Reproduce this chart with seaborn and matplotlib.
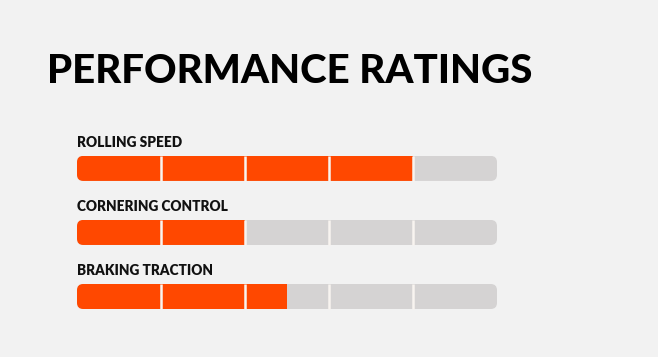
import matplotlib.pyplot as plt
from matplotlib.patches import FancyBboxPatch
import seaborn as sns

categories = ["ROLLING SPEED", "CORNERING CONTROL", "BRAKING TRACTION"]
ratings = [4, 2, 2.5]
max_rating = 5
title = "PERFORMANCE RATINGS"

bg = "#f2f2f2"
orange = "#ff4800"
track = "#d5d3d3"

sns.set_theme(style="white")
plt.rcParams['font.family'] = ['Lato', 'DejaVu Sans']

fig = plt.figure(figsize=(6.58, 3.57), dpi=100, facecolor=bg)
ax = fig.add_axes([77 / 658, 1 - 320 / 357, 420 / 658, 190 / 357])
ax.set_facecolor(bg)

bar_h = 25 / 64
sns.barplot(x=[max_rating] * len(categories), y=categories, color=track,
            saturation=1, width=bar_h, orient='h', ax=ax)
sns.barplot(x=ratings, y=categories, color=orange,
            saturation=1, width=bar_h, orient='h', ax=ax)

n = len(categories)
tracks = ax.patches[:n]
fills = ax.patches[n:2 * n]
for t, f in zip(tracks, fills):
    rounded = FancyBboxPatch((t.get_x(), t.get_y()), t.get_width(), t.get_height(),
                             boxstyle="round,pad=0,rounding_size=0.075",
                             mutation_aspect=84 / 64, transform=ax.transData,
                             facecolor='none', edgecolor='none')
    ax.add_patch(rounded)
    t.set_clip_path(rounded)
    f.set_clip_path(rounded)
    t.set_edgecolor('none')
    f.set_edgecolor('none')
    ax.vlines(range(1, max_rating), t.get_y(), t.get_y() + t.get_height(),
              color="#f8f4f0", lw=1.8, zorder=5)

for i, cat in enumerate(categories):
    ax.text(0, i - 0.336, cat, fontsize=9.8, fontweight='heavy', color='#111111',
            va='baseline', ha='left')

ax.set_xlim(0, max_rating)
ax.set_ylim(2.367, -0.6)
ax.axis('off')

fig.text(47 / 658, 1 - 83 / 357, title, fontsize=29, fontweight='black',
         color='black', va='baseline', ha='left')

fig.savefig('out.png', dpi=100, facecolor=bg)
